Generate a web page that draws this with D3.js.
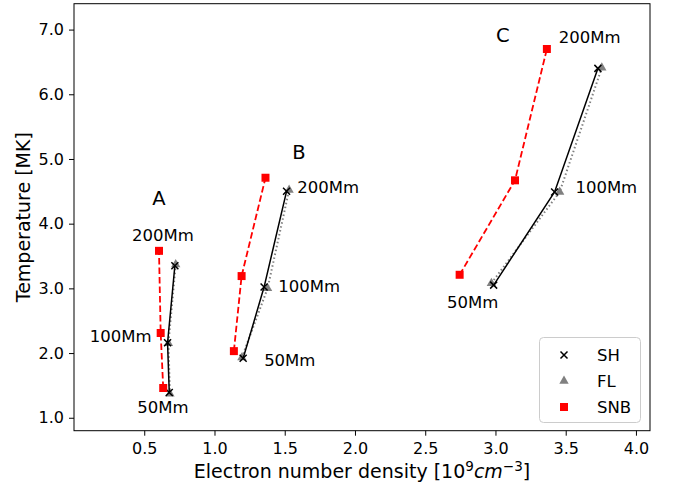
<!DOCTYPE html>
<html>
<head>
<meta charset="utf-8">
<script src="https://cdn.jsdelivr.net/npm/d3@7"></script>
<style>
  body { margin: 0; background: #fff; }
  text { font-family: "DejaVu Sans", sans-serif; }
</style>
</head>
<body>
<svg width="673" height="490"></svg>
<script>
// loop lengths, one entry per model point
var heights = ["50Mm", "100Mm", "200Mm"];
var cases = ["A", "B", "C"];

// electron density [1e9 cm^-3] and temperature [MK] per case
var shDensity  = [[0.678, 0.666, 0.718], [1.204, 1.353, 1.513], [2.987, 3.421, 3.729]];
var shTemp     = [[1.39, 2.16, 3.35], [1.92, 3.02, 4.50], [3.05, 4.49, 6.40]];
var flDensity  = [[0.683, 0.672, 0.724], [1.195, 1.378, 1.531], [2.971, 3.457, 3.757]];
var flTemp     = [[1.37, 2.15, 3.37], [1.93, 3.00, 4.52], [3.08, 4.49, 6.41]];
var snbDensity = [[0.635, 0.617, 0.605], [1.138, 1.193, 1.363], [2.745, 3.139, 3.366]];
var snbTemp    = [[1.46, 2.31, 3.58], [2.03, 3.19, 4.71], [3.21, 4.67, 6.70]];

// text anchors (data coords), like plt.text
var caseLabelX = [0.605, 1.602, 3.053];
var caseLabelY = [4.40, 5.11, 6.92];
var heightLabelX = [[0.633, 0.332, 0.633], [1.536, 1.674, 1.809], [2.837, 3.789, 3.67]];
var heightLabelY = [[1.17, 2.27, 3.83], [1.89, 3.03, 4.57], [2.79, 4.57, 6.89]];

var xTicks = [0.5, 1.0, 1.5, 2.0, 2.5, 3.0, 3.5, 4.0];
var yTicks = [1.0, 2.0, 3.0, 4.0, 5.0, 6.0, 7.0];

var svg = d3.select("svg");

var x = d3.scaleLinear().domain([0, 4.1]).range([74, 650]);
var y = d3.scaleLinear().domain([0.8, 7.4]).range([430.7, 3.7]);

function pts(xs, ys) {
	return xs.map(function(d, i) { return [d, ys[i]]; });
}

var line = d3.line()
	.x(function(d) { return x(d[0]); })
	.y(function(d) { return y(d[1]); });

var crossPath = function(r) {
	return "M" + (-r) + "," + (-r) + "L" + r + "," + r + "M" + (-r) + "," + r + "L" + r + "," + (-r);
};
var triPath = d3.symbol().type(d3.symbolTriangle).size(38)();
var sqPath = d3.symbol().type(d3.symbolSquare).size(64)();

var plot = svg.append("g").attr("class", "plot");

cases.forEach(function(c, k) {
	var fl = pts(flDensity[k], flTemp[k]);
	var sh = pts(shDensity[k], shTemp[k]);
	var snb = pts(snbDensity[k], snbTemp[k]);

	plot.append("path")
		.attr("d", line(fl))
		.attr("fill", "none")
		.attr("stroke", "#808080")
		.attr("stroke-width", 2)
		.attr("stroke-dasharray", "1.5,2.5");
	plot.selectAll(".fl" + k).data(fl).enter().append("path")
		.attr("class", "fl" + k)
		.attr("transform", function(d) { return "translate(" + x(d[0]) + "," + y(d[1]) + ")"; })
		.attr("d", triPath)
		.attr("fill", "#808080");

	plot.append("path")
		.attr("d", line(sh))
		.attr("fill", "none")
		.attr("stroke", "#000")
		.attr("stroke-width", 1.5);
	plot.selectAll(".sh" + k).data(sh).enter().append("path")
		.attr("class", "sh" + k)
		.attr("transform", function(d) { return "translate(" + x(d[0]) + "," + y(d[1]) + ")"; })
		.attr("d", crossPath(3.5))
		.attr("stroke", "#000")
		.attr("stroke-width", 1.5);

	plot.append("path")
		.attr("d", line(snb))
		.attr("fill", "none")
		.attr("stroke", "#ff0000")
		.attr("stroke-width", 1.8)
		.attr("stroke-dasharray", "6.5,3");
	plot.selectAll(".snb" + k).data(snb).enter().append("path")
		.attr("class", "snb" + k)
		.attr("transform", function(d) { return "translate(" + x(d[0]) + "," + y(d[1]) + ")"; })
		.attr("d", sqPath)
		.attr("fill", "#ff0000");

	plot.append("text")
		.attr("x", x(caseLabelX[k]))
		.attr("y", y(caseLabelY[k]))
		.attr("text-anchor", "middle")
		.attr("dy", "0.36em")
		.attr("font-size", "19.5px")
		.text(c);

	heights.forEach(function(h, i) {
		plot.append("text")
			.attr("x", x(heightLabelX[k][i]))
			.attr("y", y(heightLabelY[k][i]))
			.attr("text-anchor", "middle")
			.attr("dy", "0.36em")
			.attr("font-size", "16.5px")
			.text(h);
	});
});

// axes
var xAxis = svg.append("g")
	.attr("transform", "translate(0," + y.range()[0] + ")")
	.call(d3.axisBottom(x).tickValues(xTicks).tickFormat(d3.format(".1f")).tickSize(5).tickPadding(7).tickSizeOuter(0));
var yAxis = svg.append("g")
	.attr("transform", "translate(" + x.range()[0] + ",0)")
	.call(d3.axisLeft(y).tickValues(yTicks).tickFormat(d3.format(".1f")).tickSize(5).tickPadding(5).tickSizeOuter(0));
[xAxis, yAxis].forEach(function(a) {
	a.select(".domain").remove();
	a.selectAll("text").attr("font-size", "16px").attr("font-family", "DejaVu Sans").attr("fill", "#000");
	a.selectAll("line").attr("stroke", "#000").attr("stroke-width", 1);
});

svg.append("rect")
	.attr("x", x.range()[0])
	.attr("y", y.range()[1])
	.attr("width", x.range()[1] - x.range()[0])
	.attr("height", y.range()[0] - y.range()[1])
	.attr("fill", "none")
	.attr("stroke", "#000")
	.attr("stroke-width", 1);

var xl = svg.append("text")
	.attr("x", (x.range()[0] + x.range()[1]) / 2)
	.attr("y", 478)
	.attr("text-anchor", "middle")
	.attr("font-size", "19px");
xl.append("tspan").text("Electron number density [10");
xl.append("tspan").attr("font-size", "13.5px").attr("dy", "-7").text("9");
xl.append("tspan").attr("dy", "7").attr("font-style", "italic").text("cm");
xl.append("tspan").attr("font-size", "13.5px").attr("dy", "-7").text("\u22123");
xl.append("tspan").attr("dy", "7").text("]");

svg.append("text")
	.attr("transform", "translate(30," + (y.range()[0] + y.range()[1]) / 2 + ") rotate(-90)")
	.attr("text-anchor", "middle")
	.attr("font-size", "19px")
	.text("Temperature [MK]");

// legend
var legend = svg.append("g").attr("class", "legend");
legend.append("rect")
	.attr("x", 539.5).attr("y", 337.5)
	.attr("width", 101).attr("height", 85)
	.attr("rx", 4)
	.attr("fill", "#fff").attr("fill-opacity", 0.8)
	.attr("stroke", "#cccccc").attr("stroke-width", 1);
var legendItems = ["SH", "FL", "SNB"];
var legendMarks = [
	{ d: crossPath(3.5), fill: "none", stroke: "#000" },
	{ d: triPath, fill: "#808080", stroke: "none" },
	{ d: sqPath, fill: "#ff0000", stroke: "none" }
];
legendItems.forEach(function(name, i) {
	var cy = 355 + i * 26;
	legend.append("path")
		.attr("transform", "translate(564," + cy + ")")
		.attr("d", legendMarks[i].d)
		.attr("fill", legendMarks[i].fill)
		.attr("stroke", legendMarks[i].stroke)
		.attr("stroke-width", 1.5);
	legend.append("text")
		.attr("x", 597)
		.attr("y", cy)
		.attr("dy", "0.36em")
		.attr("font-size", "16.5px")
		.text(name);
});
</script>
</body>
</html>
